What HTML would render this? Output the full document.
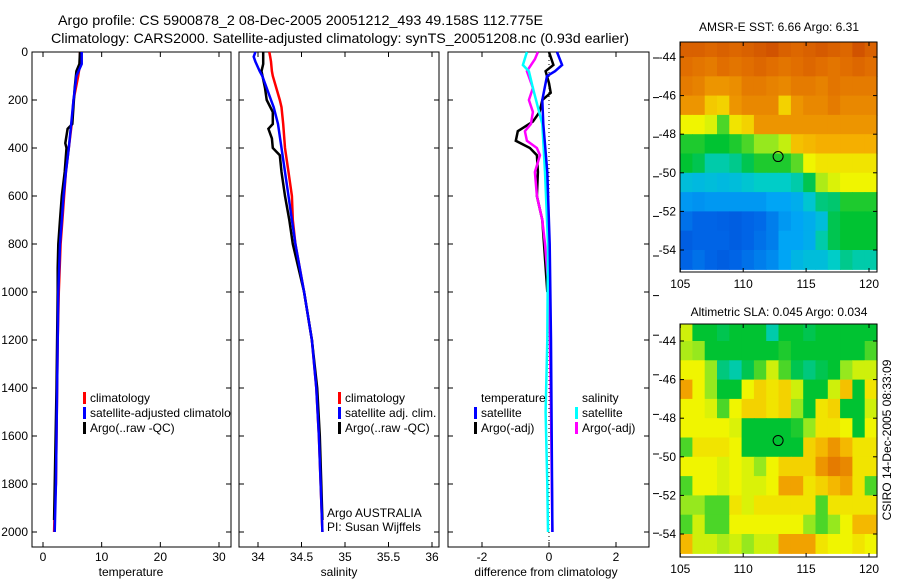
<!DOCTYPE html>
<html><head><meta charset="utf-8">
<style>
html,body{margin:0;padding:0;background:#fff;}
svg{display:block;font-family:"Liberation Sans",sans-serif;}
</style></head>
<body>
<svg id="fig" width="900" height="580" viewBox="0 0 900 580" xmlns="http://www.w3.org/2000/svg">
<rect width="900" height="580" fill="#fff"/>
<text x="58" y="25" font-size="14" textLength="485" lengthAdjust="spacingAndGlyphs">Argo profile: CS 5900878_2 08-Dec-2005 20051212_493 49.158S 112.775E</text>
<text x="51" y="43" font-size="14" textLength="578" lengthAdjust="spacingAndGlyphs">Climatology: CARS2000. Satellite-adjusted climatology: synTS_20051208.nc (0.93d earlier)</text>
<g id="layer"></g>
</svg>
<script>
// ---------- profile data ----------
const tDepth   = [0,50,100,200,300,400,500,600,700,800,1000,1200,1400,1600,1800,1900,2000];
const tClim    = [6.3,6.3,6.0,5.2,4.9,4.4,3.9,3.6,3.3,3.0,2.7,2.5,2.4,2.3,2.2,2.0,1.9];
const tSat     = [6.6,6.6,5.7,5.2,4.8,4.4,3.9,3.5,3.2,2.9,2.6,2.5,2.4,2.3,2.2,2.1,2.0];
const aDepthT  = [0,50,80,150,300,320,380,400,500,600,700,800,900,1000,1400,1950];
const tArgo    = [6.3,6.2,5.7,5.4,5.0,4.2,3.8,4.0,3.7,3.2,2.9,2.6,2.5,2.5,2.3,1.9];

const sDepth   = [0,20,40,80,100,150,200,230,300,400,500,600,700,800,1000,1200,1400,1600,2000];
const sClim    = [34.13,34.14,34.15,34.16,34.17,34.21,34.25,34.27,34.29,34.31,34.35,34.39,34.40,34.43,34.53,34.62,34.67,34.70,34.74];
const sSat     = [33.97,33.95,33.97,34.02,34.05,34.10,34.15,34.18,34.23,34.27,34.31,34.35,34.39,34.43,34.53,34.62,34.67,34.70,34.74];
const aDepthS  = [0,50,80,150,200,250,300,320,360,400,430,500,600,700,800,1000,1200,1400,1600,1950];
const sArgo    = [34.06,34.06,34.04,34.08,34.10,34.17,34.17,34.12,34.16,34.17,34.25,34.27,34.31,34.36,34.40,34.53,34.62,34.68,34.71,34.74];

const dTDepthSat = [0,54,80,100,200,300,500,800,1200,1600,2000];
const dTSat      = [0.24,0.39,0.18,-0.06,-0.2,-0.17,-0.05,0.02,0.06,0.08,0.1];
const dTDepthArgo= [0,54,80,130,170,200,250,290,330,370,400,430,500,600,700,800,1000];
const dTArgo     = [0,0.13,-0.1,0,0.05,-0.2,-0.28,-0.48,-0.93,-0.99,-0.57,-0.36,-0.33,-0.36,-0.2,-0.15,-0.05];
const dSDepthSat = [0,54,80,150,230,300,500,800,1200,1500,1800,2000];
const dSSat      = [-0.66,-0.78,-0.6,-0.48,-0.33,-0.2,-0.12,-0.03,-0.05,-0.1,-0.05,-0.03];
const dSDepthArgo= [0,30,80,150,200,250,300,330,370,400,430,500,600,700,800,1000,1200,1500,2000];
const dSArgo     = [-0.33,-0.42,-0.66,-0.48,-0.6,-0.48,-0.54,-0.72,-0.66,-0.36,-0.27,-0.42,-0.36,-0.2,-0.12,0,0.03,0.06,0.1];

const depthTicks = [0,200,400,600,800,1000,1200,1400,1600,1800,2000];
const tTicks = [0,10,20,30];
const sTicks = [34,34.5,35,35.5,36];
const sTickLabels = ["34","34.5","35","35.5","36"];
const dTicks = [-2,0,2];

// ---------- map data (rows lat -43.5 .. -54.5, cols lon 105..120) ----------
const mapLonTicks = [105,110,115,120];
const mapLatTicks = [-44,-46,-48,-50,-52,-54];
const sstGrid = [
[0.88,0.88,0.87,0.88,0.87,0.88,0.89,0.9,0.88,0.87,0.88,0.89,0.88,0.87,0.9,0.88],
[0.86,0.85,0.84,0.86,0.85,0.86,0.87,0.86,0.85,0.86,0.87,0.86,0.85,0.86,0.87,0.86],
[0.84,0.83,0.8,0.8,0.81,0.84,0.84,0.83,0.82,0.84,0.84,0.83,0.85,0.84,0.84,0.84],
[0.8,0.8,0.73,0.72,0.8,0.82,0.82,0.82,0.72,0.8,0.82,0.82,0.84,0.82,0.82,0.82],
[0.68,0.68,0.66,0.55,0.7,0.72,0.8,0.8,0.8,0.8,0.8,0.8,0.8,0.8,0.8,0.8],
[0.52,0.52,0.5,0.5,0.52,0.55,0.6,0.6,0.64,0.74,0.75,0.76,0.76,0.76,0.76,0.76],
[0.5,0.48,0.42,0.42,0.44,0.48,0.52,0.52,0.52,0.56,0.68,0.7,0.7,0.7,0.7,0.7],
[0.36,0.35,0.36,0.35,0.36,0.38,0.4,0.4,0.4,0.42,0.48,0.62,0.66,0.68,0.68,0.68],
[0.28,0.27,0.28,0.28,0.28,0.28,0.28,0.3,0.3,0.32,0.38,0.45,0.46,0.52,0.52,0.52],
[0.22,0.2,0.2,0.19,0.18,0.2,0.21,0.24,0.28,0.3,0.32,0.36,0.48,0.5,0.5,0.5],
[0.18,0.2,0.2,0.2,0.18,0.2,0.22,0.24,0.3,0.3,0.32,0.42,0.48,0.5,0.5,0.5],
[0.2,0.22,0.2,0.18,0.2,0.22,0.24,0.26,0.3,0.34,0.36,0.36,0.4,0.44,0.42,0.42]
];
const slaGrid = [
[0.65,0.5,0.5,0.48,0.5,0.5,0.5,0.42,0.5,0.5,0.48,0.5,0.5,0.5,0.5,0.5],
[0.62,0.6,0.5,0.5,0.5,0.5,0.5,0.5,0.52,0.5,0.5,0.5,0.5,0.5,0.5,0.55],
[0.68,0.68,0.6,0.45,0.42,0.48,0.55,0.65,0.55,0.48,0.45,0.48,0.5,0.6,0.65,0.65],
[0.78,0.68,0.6,0.5,0.5,0.68,0.72,0.7,0.72,0.65,0.5,0.5,0.65,0.74,0.5,0.7],
[0.68,0.68,0.66,0.55,0.68,0.72,0.72,0.7,0.72,0.6,0.5,0.7,0.72,0.5,0.5,0.65],
[0.68,0.68,0.68,0.68,0.66,0.5,0.5,0.5,0.5,0.52,0.6,0.7,0.7,0.68,0.5,0.68],
[0.55,0.7,0.7,0.7,0.68,0.5,0.5,0.5,0.5,0.5,0.72,0.75,0.8,0.75,0.7,0.7],
[0.68,0.68,0.68,0.66,0.68,0.66,0.6,0.68,0.72,0.72,0.72,0.8,0.84,0.82,0.7,0.7],
[0.55,0.68,0.68,0.66,0.68,0.66,0.66,0.68,0.78,0.78,0.7,0.72,0.75,0.78,0.7,0.55],
[0.6,0.6,0.55,0.55,0.7,0.66,0.7,0.7,0.7,0.7,0.7,0.55,0.7,0.7,0.7,0.7],
[0.55,0.65,0.55,0.55,0.68,0.68,0.68,0.68,0.68,0.68,0.6,0.55,0.6,0.68,0.75,0.75],
[0.75,0.65,0.65,0.62,0.65,0.6,0.65,0.65,0.78,0.78,0.78,0.7,0.68,0.68,0.7,0.68]
];

// ---------- helpers ----------
const NS="http://www.w3.org/2000/svg";
const layer=document.getElementById('layer');
function mk(tag,attrs,parent){const e=document.createElementNS(NS,tag);for(const k in attrs)e.setAttribute(k,attrs[k]);(parent||layer).appendChild(e);return e;}
const Y0=52, PXM=0.24, PBOT=547;
function yD(d){return Y0+d*PXM;}
function lin(d0,p0,d1,p1){return v=>p0+(v-d0)*(p1-p0)/(d1-d0);}
const xT=lin(0,43,30,219);
const xS=lin(34,258,36,432);
const xD=lin(-2,482,2,616);

const panels=[
 {name:'temperature-panel',x0:32,x1:231,ticks:tTicks,labels:tTicks.map(String),xf:xT,xlabel:'temperature',lx:131},
 {name:'salinity-panel',x0:239,x1:439,ticks:sTicks,labels:sTickLabels,xf:xS,xlabel:'salinity',lx:339},
 {name:'difference-panel',x0:448,x1:649,ticks:dTicks,labels:['-2','0','2'],xf:xD,xlabel:'difference from climatology',lx:546}
];
panels.forEach((p,i)=>{
 const g=mk('g',{});
 
 
 const r=mk('rect',{x:p.x0,y:Y0,width:p.x1-p.x0,height:PBOT-Y0,fill:'none',stroke:'#000','stroke-width':1},g);
 
 
 p.ticks.forEach((t,j)=>{
  const x=p.xf(t);
  mk('line',{x1:x,x2:x,y1:Y0,y2:Y0+5,stroke:'#000'},g);
  mk('line',{x1:x,x2:x,y1:PBOT,y2:PBOT-5,stroke:'#000'},g);
  const tl=mk('text',{x:x,y:561,'font-size':12,'text-anchor':'middle'},g);
  tl.textContent=p.labels[j];
  
  
 });
 depthTicks.forEach(d=>{
  const y=yD(d);
  mk('line',{x1:p.x0,x2:p.x0+5,y1:y,y2:y,stroke:'#000'},g);
  mk('line',{x1:p.x1,x2:p.x1-5,y1:y,y2:y,stroke:'#000'},g);
  if(i===0){
   const tl=mk('text',{x:28,y:y+4,'font-size':12,'text-anchor':'end'},g);
   tl.textContent=String(d);
   
   
  }
 });
 const xl=mk('text',{x:p.lx,y:576,'font-size':12,'text-anchor':'middle'},g);
 xl.textContent=p.xlabel;
 
 
});
// right outside ticks
for(let k=0;k<13;k++){const y=58+k*39.6;mk('line',{x1:653,x2:659,y1:y,y2:y,stroke:'#000'});}

function series(depths,vals,xf,color,name,clipId){
 const pts=depths.map((d,i)=>xf(vals[i]).toFixed(1)+','+yD(d).toFixed(1)).join(' ');
 const pl=mk('polyline',{points:pts,fill:'none',stroke:color,'stroke-width':2.5,'stroke-linejoin':'miter'});
 
 
 return pl;
}
series(tDepth,tClim,xT,'#ff0000','temp-climatology-line');
series(aDepthT,tArgo,xT,'#000000','temp-argo-line');
series(tDepth,tSat,xT,'#0000ff','temp-satellite-line');
series(sDepth,sClim,xS,'#ff0000','sal-climatology-line');
series(aDepthS,sArgo,xS,'#000000','sal-argo-line');
series(sDepth,sSat,xS,'#0000ff','sal-satellite-line');
const zl=mk('line',{x1:xD(0),x2:xD(0),y1:Y0,y2:PBOT,stroke:'#000','stroke-dasharray':'1,3'});


series(dTDepthArgo,dTArgo,xD,'#000000','diff-temp-argo-line');
series(dSDepthArgo,dSArgo,xD,'#ff00ff','diff-sal-argo-line');
series(dSDepthSat,dSSat,xD,'#00ffff','diff-sal-satellite-line');
series(dTDepthSat,dTSat,xD,'#0000ff','diff-temp-satellite-line');

// legends
function legend(items,bx,y0,clipW){
 items.forEach((it,i)=>{
  const y=y0+i*15;
  if(it.c){const b=mk('rect',{x:bx,y:y-10,width:3,height:12,fill:it.c});
   }
  const t=mk('text',{x:bx+7,y:y,'font-size':12});
  t.textContent=it.t;
  
  
  if(clipW) t.setAttribute('clip-path','url(#clip1)');
 });
}
const defs=mk('defs',{});
const cp=mk('clipPath',{id:'clip1'},defs);mk('rect',{x:32,y:52,width:199,height:495},cp);
legend([{t:'climatology',c:'#f00'},{t:'satellite-adjusted climatology',c:'#00f'},{t:'Argo(..raw -QC)',c:'#000'}],83,402,true);
legend([{t:'climatology',c:'#f00'},{t:'satellite adj. clim.',c:'#00f'},{t:'Argo(..raw -QC)',c:'#000'}],338,402);
legend([{t:'temperature'},{t:'satellite',c:'#00f'},{t:'Argo(-adj)',c:'#000'}],474,402);
legend([{t:'salinity'},{t:'satellite',c:'#0ff'},{t:'Argo(-adj)',c:'#f0f'}],575,402);
[['Argo AUSTRALIA',517],['PI: Susan Wijffels',531]].forEach(a=>{
 const t=mk('text',{x:327,y:a[1],'font-size':12});t.textContent=a[0];
 
});

// ---------- maps ----------
const stops=[[0,[0,40,180]],[0.2,[0,100,230]],[0.3,[0,165,245]],[0.4,[0,205,200]],[0.5,[0,195,50]],[0.6,[150,232,30]],[0.68,[240,245,0]],[0.76,[245,175,0]],[0.86,[225,110,0]],[0.95,[190,50,0]],[1,[170,20,0]]];
function cmap(v){for(let i=1;i<stops.length;i++){if(v<=stops[i][0]){const a=stops[i-1],b=stops[i],f=(v-a[0])/(b[0]-a[0]);return 'rgb('+a[1].map((c,k)=>Math.round(c+(b[1][k]-c)*f)).join(',')+')';}}return 'rgb(170,20,0)';}
function drawMap(name,grid,top,bottom,lat44y,lat54y,title,titleY){
 const x0=680,x1=877;
 const xL=lin(105,680.3,120,869);
 const yL=lin(-44,lat44y,-54,lat54y);
 const g=mk('g',{});
 
 
 const rows=grid.length,cols=grid[0].length;
 const lonA=104.98, lonB=lonA+(x1-x0)/((869-680.3)/15);
 const latA=-43.5+0.5, latB=-55.5+0.5;
 for(let r=0;r<rows;r++)for(let c=0;c<cols;c++){
  const la=latA+(latB-latA)*r/rows, lb=latA+(latB-latA)*(r+1)/rows;
  const lo=lonA+(lonB-lonA)*c/cols, lo2=lonA+(lonB-lonA)*(c+1)/cols;
  const ya=Math.max(top,yL(la)), yb=Math.min(bottom,yL(lb));
  const cell=mk('rect',{x:xL(lo).toFixed(1),y:ya.toFixed(1),width:(xL(lo2)-xL(lo)+0.6).toFixed(1),height:(yb-ya+0.6).toFixed(1),fill:cmap(grid[r][c])},g);
  
  
 }
 mk('rect',{x:x0,y:top,width:x1-x0,height:bottom-top,fill:'none',stroke:'#000'},g);
 mapLonTicks.forEach(l=>{const x=xL(l);
  mk('line',{x1:x,x2:x,y1:top,y2:top+4,stroke:'#000'},g);
  mk('line',{x1:x,x2:x,y1:bottom,y2:bottom-4,stroke:'#000'},g);
  const t=mk('text',{x:x,y:bottom+16,'font-size':12,'text-anchor':'middle'},g);t.textContent=String(l);
  });
 mapLatTicks.forEach(l=>{const y=yL(l);
  mk('line',{x1:x0,x2:x0+4,y1:y,y2:y,stroke:'#000'},g);
  mk('line',{x1:x1,x2:x1-4,y1:y,y2:y,stroke:'#000'},g);
  const t=mk('text',{x:676,y:y+4,'font-size':12,'text-anchor':'end'},g);t.textContent=String(l);
  });
 const c=mk('circle',{cx:xL(112.775),cy:yL(-49.158),r:5,fill:'none',stroke:'#000'},g);
 
 const t=mk('text',{x:779,y:titleY,'font-size':12,'text-anchor':'middle'},g);t.textContent=title;
 
}
drawMap('sst-map',sstGrid,42,272,57,250,'AMSR-E SST: 6.66 Argo: 6.31',31);
drawMap('sla-map',slaGrid,324,557,341,534,'Altimetric SLA: 0.045 Argo: 0.034',316);
const ct=mk('text',{x:0,y:0,'font-size':12,'text-anchor':'middle',transform:'translate(891,440) rotate(-90)'});
ct.textContent='CSIRO 14-Dec-2005 08:33:09';


</script>
</body></html>
